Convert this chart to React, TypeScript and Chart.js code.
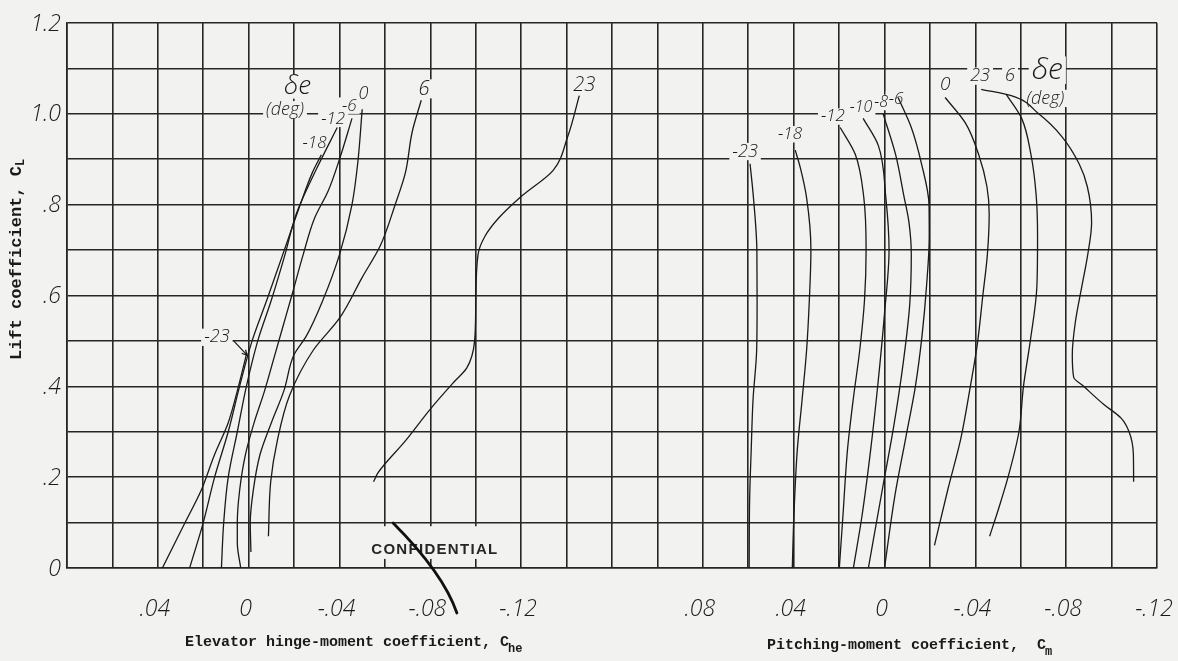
import React, { useEffect, useRef } from 'react';
import { Chart, registerables } from 'chart.js';

Chart.register(...registerables);

type P = [number, number];

// ---- Elevator hinge-moment coefficient C_he (x) vs lift coefficient C_L (y), per δe (deg)
const hingeM23: P[] = [[0.038, 0], [0.028, 0.10], [0.021, 0.17], [0.015, 0.25], [0.009, 0.32], [0.005, 0.39], [0.001, 0.47]];
const hingeM18: P[] = [[0.026, 0], [0.020, 0.10], [0.015, 0.20], [0.009, 0.30], [0.004, 0.40], [-0.0015, 0.50], [-0.008, 0.59], [-0.015, 0.69], [-0.022, 0.79], [-0.028, 0.87], [-0.032, 0.91]];
const hingeM12: P[] = [[0.012, 0], [0.011, 0.10], [0.009, 0.20], [0.005, 0.30], [0.001, 0.40], [-0.004, 0.50], [-0.010, 0.59], [-0.016, 0.69], [-0.021, 0.78], [-0.030, 0.88], [-0.039, 0.97]];
const hingeM6: P[] = [[0.0035, 0], [0.005, 0.055], [0.005, 0.10], [0.004, 0.17], [0.0014, 0.25], [-0.0024, 0.32], [-0.007, 0.39], [-0.011, 0.46], [-0.015, 0.53], [-0.019, 0.60], [-0.024, 0.69], [-0.029, 0.77], [-0.035, 0.83], [-0.040, 0.90], [-0.0455, 0.99]];
const hinge0: P[] = [[-0.001, 0.035], [-0.0007, 0.10], [-0.002, 0.17], [-0.005, 0.25], [-0.010, 0.32], [-0.0155, 0.39], [-0.020, 0.47], [-0.0253, 0.51], [-0.0327, 0.59], [-0.040, 0.69], [-0.0455, 0.80], [-0.048, 0.89], [-0.050, 1.01]];
const hinge6: P[] = [[-0.0087, 0.07], [-0.0097, 0.19], [-0.0126, 0.28], [-0.018, 0.38], [-0.0285, 0.48], [-0.040, 0.55], [-0.050, 0.64], [-0.058, 0.71], [-0.0645, 0.80], [-0.069, 0.87], [-0.072, 0.96], [-0.076, 1.03]];
const hinge23: P[] = [[-0.055, 0.19], [-0.057, 0.21], [-0.069, 0.28], [-0.080, 0.35], [-0.0905, 0.41], [-0.096, 0.44], [-0.0995, 0.50], [-0.100, 0.58], [-0.101, 0.69], [-0.104, 0.73], [-0.110, 0.77], [-0.1205, 0.82], [-0.134, 0.875], [-0.1405, 0.95], [-0.1456, 1.04]];

// ---- Pitching-moment coefficient C_m (x) vs lift coefficient C_L (y), per δe (deg)
const pitchM23: P[] = [[0.0596, 0], [0.0594, 0.15], [0.0587, 0.26], [0.0579, 0.37], [0.0563, 0.48], [0.0561, 0.59], [0.0562, 0.70], [0.0577, 0.815], [0.0592, 0.89]];
const pitchM18: P[] = [[0.0406, 0], [0.0399, 0.115], [0.0384, 0.26], [0.0363, 0.37], [0.0343, 0.48], [0.0331, 0.59], [0.0324, 0.70], [0.0343, 0.815], [0.0370, 0.88], [0.0393, 0.92]];
const pitchM12: P[] = [[0.0199, 0], [0.0183, 0.115], [0.0163, 0.26], [0.0138, 0.37], [0.0109, 0.48], [0.0088, 0.59], [0.0081, 0.70], [0.0091, 0.815], [0.0128, 0.91], [0.0195, 0.97]];
const pitchM10: P[] = [[0.0137, 0], [0.0099, 0.115], [0.0061, 0.26], [0.0028, 0.41], [0.0, 0.56], [-0.0020, 0.70], [-0.0006, 0.815], [0.0027, 0.93], [0.0094, 0.99]];
const pitchM8: P[] = [[0.0071, 0], [0.0007, 0.18], [-0.0040, 0.31], [-0.0082, 0.45], [-0.0111, 0.58], [-0.0118, 0.69], [-0.0108, 0.76], [-0.0085, 0.82], [-0.0049, 0.91], [0.0006, 1.0]];
const pitchM6: P[] = [[0.0, 0], [-0.0046, 0.16], [-0.0093, 0.285], [-0.0136, 0.40], [-0.0165, 0.51], [-0.0185, 0.62], [-0.0197, 0.73], [-0.0196, 0.80], [-0.0163, 0.89], [-0.0118, 0.97], [-0.0060, 1.036]];
const pitch0: P[] = [[-0.022, 0.05], [-0.028, 0.175], [-0.0336, 0.285], [-0.0378, 0.40], [-0.0408, 0.49], [-0.0433, 0.60], [-0.0453, 0.69], [-0.0461, 0.78], [-0.0451, 0.84], [-0.0415, 0.91], [-0.0356, 0.98], [-0.0267, 1.036]];
const pitch6: P[] = [[-0.0463, 0.07], [-0.0502, 0.13], [-0.0544, 0.20], [-0.0592, 0.30], [-0.0612, 0.40], [-0.0642, 0.50], [-0.0671, 0.62], [-0.0674, 0.73], [-0.0668, 0.82], [-0.0645, 0.91], [-0.0604, 0.99], [-0.0536, 1.043]];
const pitch23: P[] = [[-0.1097, 0.19], [-0.1096, 0.25], [-0.1077, 0.30], [-0.1042, 0.33], [-0.0966, 0.36], [-0.0877, 0.40], [-0.0833, 0.42], [-0.0827, 0.47], [-0.0840, 0.54], [-0.0869, 0.62], [-0.0895, 0.69], [-0.0912, 0.76], [-0.0893, 0.84], [-0.0857, 0.89], [-0.0781, 0.95], [-0.0679, 1.0], [-0.0558, 1.04], [-0.0426, 1.054]];

// ---- Axis ranges and ticks
const hingeMin = -0.40;
const hingeMax = 0.08;
const pitchMin = -0.12;
const pitchMax = 0.36;
const liftMin = 0;
const liftMax = 1.2;
const hingeGridValues = Array.from({ length: 25 }, (_, i) => Math.round((0.08 - 0.02 * i) * 100) / 100);
const liftGridValues = Array.from({ length: 13 }, (_, i) => Math.round(i * 10) / 100);

const liftTicks = [0, 0.2, 0.4, 0.6, 0.8, 1.0, 1.2];
const liftTickText = ['0', '.2', '.4', '.6', '.8', '1.0', '1.2'];
const hingeTicks = [0.04, 0, -0.04, -0.08, -0.12];
const hingeTickText = ['.04', '0', '-.04', '-.08', '-.12'];
const pitchTicks = [0.08, 0.04, 0, -0.04, -0.08, -0.12];
const pitchTickText = ['.08', '.04', '0', '-.04', '-.08', '-.12'];

// ---- Curve labels (value coordinates)
type L = { text: string; x: number; y: number; size: number };
const hingeCurveLabels: L[] = [
  { text: 'δe', x: -0.0215, y: 1.06, size: 26 },
  { text: '(deg)', x: -0.0160, y: 1.009, size: 18 },
  { text: '-18', x: -0.0290, y: 0.936, size: 17 },
  { text: '-12', x: -0.0372, y: 0.989, size: 17 },
  { text: '-6', x: -0.0443, y: 1.018, size: 17 },
  { text: '0', x: -0.0505, y: 1.043, size: 18 },
  { text: '6', x: -0.0772, y: 1.055, size: 20 },
  { text: '23', x: -0.1478, y: 1.062, size: 20 },
  { text: '-23', x: 0.0140, y: 0.508, size: 18 },
];
const pitchCurveLabels: L[] = [
  { text: '-23', x: 0.0614, y: 0.917, size: 18 },
  { text: '-18', x: 0.0416, y: 0.955, size: 17 },
  { text: '-12', x: 0.0227, y: 0.994, size: 17 },
  { text: '-10', x: 0.0103, y: 1.014, size: 16 },
  { text: '-8', x: 0.0015, y: 1.025, size: 16 },
  { text: '-6', x: -0.0051, y: 1.032, size: 17 },
  { text: '0', x: -0.0267, y: 1.065, size: 19 },
  { text: '23', x: -0.0421, y: 1.083, size: 18 },
  { text: '6', x: -0.0553, y: 1.083, size: 18 },
  { text: 'δe', x: -0.0717, y: 1.096, size: 30 },
  { text: '(deg)', x: -0.0708, y: 1.034, size: 18 },
];
const arrowM23 = { x1: 0.0068, y1: 0.501, x2: 0.0006, y2: 0.468 };
const confidential = { text: 'CONFIDENTIAL', x: -0.082, y: 0.041, boxX1: -0.045, boxX2: -0.117, boxY1: 0.092, boxY2: 0.02 };
const penMark = { x1: -0.0636, y1: 0.099, cx: -0.0856, cy: -0.011, x2: -0.0917, y2: -0.099 };

const BG = '#f2f2f0';
const INK = '#1a1a1a';
const GRID = '#262626';
const numFont = (s: number) => `italic 300 ${s}px "Open Sans", "DejaVu Sans", sans-serif`;
const typeFont = (s: number) => `bold ${s}px "Liberation Mono", "DejaVu Sans Mono", monospace`;

const mk = (label: string, pts: P[], axis: string) => ({
  label,
  data: pts.map(([x, y]) => ({ x, y })),
  xAxisID: axis,
  yAxisID: 'y',
  indexAxis: 'y',
  borderColor: INK,
  borderWidth: 1.3,
  pointRadius: 0,
  cubicInterpolationMode: 'monotone',
  fill: false,
});

const maskLabel = (ctx: CanvasRenderingContext2D, l: L, sx: any, sy: any) => {
  ctx.font = numFont(l.size);
  const w = ctx.measureText(l.text).width;
  const px = sx.getPixelForValue(l.x);
  const py = sy.getPixelForValue(l.y);
  const h = l.size * 0.85;
  ctx.fillRect(px - w / 2 - 3, py - h / 2 - 1, w + 6, h + 2);
};

const drawLabel = (ctx: CanvasRenderingContext2D, l: L, sx: any, sy: any) => {
  ctx.font = numFont(l.size);
  ctx.textAlign = 'center';
  ctx.textBaseline = 'middle';
  ctx.fillText(l.text, sx.getPixelForValue(l.x), sy.getPixelForValue(l.y));
};

const decor = {
  id: 'decor',
  beforeDatasetsDraw(chart: any) {
    const { ctx, scales } = chart;
    const { x, xm, y } = scales;
    ctx.save();
    ctx.fillStyle = BG;
    const bx1 = x.getPixelForValue(confidential.boxX1);
    const bx2 = x.getPixelForValue(confidential.boxX2);
    const by1 = y.getPixelForValue(confidential.boxY1);
    const by2 = y.getPixelForValue(confidential.boxY2);
    ctx.fillRect(bx1, by1, bx2 - bx1, by2 - by1);
    hingeCurveLabels.forEach((l) => maskLabel(ctx, l, x, y));
    pitchCurveLabels.forEach((l) => maskLabel(ctx, l, xm, y));
    ctx.restore();
  },
  afterDatasetsDraw(chart: any) {
    const { ctx, scales } = chart;
    const { x, xm, y } = scales;
    ctx.save();
    ctx.fillStyle = INK;
    hingeCurveLabels.forEach((l) => drawLabel(ctx, l, x, y));
    pitchCurveLabels.forEach((l) => drawLabel(ctx, l, xm, y));
    // arrow for -23
    const ax1 = x.getPixelForValue(arrowM23.x1), ay1 = y.getPixelForValue(arrowM23.y1);
    const ax2 = x.getPixelForValue(arrowM23.x2), ay2 = y.getPixelForValue(arrowM23.y2);
    ctx.strokeStyle = INK;
    ctx.lineWidth = 1.2;
    ctx.beginPath();
    ctx.moveTo(ax1, ay1);
    ctx.lineTo(ax2, ay2);
    const ang = Math.atan2(ay2 - ay1, ax2 - ax1);
    ctx.moveTo(ax2, ay2);
    ctx.lineTo(ax2 - 6 * Math.cos(ang - 0.45), ay2 - 6 * Math.sin(ang - 0.45));
    ctx.moveTo(ax2, ay2);
    ctx.lineTo(ax2 - 6 * Math.cos(ang + 0.45), ay2 - 6 * Math.sin(ang + 0.45));
    ctx.stroke();
    // CONFIDENTIAL
    ctx.font = 'bold 15px "Liberation Sans", "DejaVu Sans", sans-serif';
    (ctx as any).letterSpacing = '1.3px';
    ctx.textAlign = 'center';
    ctx.textBaseline = 'middle';
    ctx.fillStyle = '#262626';
    ctx.fillText(confidential.text, x.getPixelForValue(confidential.x), y.getPixelForValue(confidential.y));
    ctx.restore();
  },
  afterDraw(chart: any) {
    const { ctx, scales, chartArea } = chart;
    const { x, xm, y } = scales;
    ctx.save();
    ctx.fillStyle = INK;
    // y tick labels
    ctx.font = numFont(23);
    ctx.textAlign = 'right';
    ctx.textBaseline = 'middle';
    liftTicks.forEach((v, i) => ctx.fillText(liftTickText[i], chartArea.left - 6, y.getPixelForValue(v) + 1));
    // x tick labels
    ctx.textAlign = 'center';
    const ty = chartArea.bottom + 41;
    hingeTicks.forEach((v, i) => ctx.fillText(hingeTickText[i], x.getPixelForValue(v) - 3, ty));
    pitchTicks.forEach((v, i) => ctx.fillText(pitchTickText[i], xm.getPixelForValue(v) - 3, ty));
    // titles
    ctx.textAlign = 'left';
    ctx.textBaseline = 'alphabetic';
    ctx.font = typeFont(15);
    const t1 = 'Elevator hinge-moment coefficient, C';
    ctx.fillText(t1, 185, chartArea.bottom + 78);
    const w1 = ctx.measureText(t1).width;
    ctx.font = typeFont(12);
    ctx.fillText('he', 185 + w1 - 1, chartArea.bottom + 84);
    ctx.font = typeFont(15);
    const t2 = 'Pitching-moment coefficient,  C';
    ctx.fillText(t2, 767, chartArea.bottom + 81);
    const w2 = ctx.measureText(t2).width;
    ctx.font = typeFont(12);
    ctx.fillText('m', 767 + w2 - 1, chartArea.bottom + 87);
    // vertical title
    ctx.save();
    ctx.translate(21, 258);
    ctx.rotate(-Math.PI / 2);
    ctx.font = typeFont(17);
    const t3 = 'Lift coefficient, C';
    const w3 = ctx.measureText(t3).width;
    ctx.fillText(t3, -w3 / 2 - 5, 0);
    ctx.font = typeFont(12);
    ctx.fillText('L', w3 / 2 - 5, 3);
    ctx.restore();
    // pen mark over the CONFIDENTIAL stamp
    ctx.strokeStyle = '#111';
    ctx.lineCap = 'round';
    ctx.lineWidth = 2.8;
    ctx.beginPath();
    ctx.moveTo(x.getPixelForValue(penMark.x1), y.getPixelForValue(penMark.y1));
    ctx.quadraticCurveTo(
      x.getPixelForValue(penMark.cx), y.getPixelForValue(penMark.cy),
      x.getPixelForValue(penMark.x2), y.getPixelForValue(penMark.y2)
    );
    ctx.stroke();
    ctx.restore();
  },
};

export default function App() {
  const ref = useRef<HTMLCanvasElement>(null);
  useEffect(() => {
    document.body.style.margin = '0';
    const chart = new Chart(ref.current as HTMLCanvasElement, {
      type: 'line',
      data: {
        datasets: [
          mk('-23', hingeM23, 'x'),
          mk('-18', hingeM18, 'x'),
          mk('-12', hingeM12, 'x'),
          mk('-6', hingeM6, 'x'),
          mk('0', hinge0, 'x'),
          mk('6', hinge6, 'x'),
          mk('23', hinge23, 'x'),
          mk('-23', pitchM23, 'xm'),
          mk('-18', pitchM18, 'xm'),
          mk('-12', pitchM12, 'xm'),
          mk('-10', pitchM10, 'xm'),
          mk('-8', pitchM8, 'xm'),
          mk('-6', pitchM6, 'xm'),
          mk('0', pitch0, 'xm'),
          mk('6', pitch6, 'xm'),
          mk('23', pitch23, 'xm'),
        ] as any,
      },
      options: {
        animation: false,
        responsive: false,
        devicePixelRatio: 1,
        layout: { padding: { left: 67, right: 21, top: 23, bottom: 93 } },
        plugins: { legend: { display: false }, tooltip: { enabled: false } },
        scales: {
          x: {
            type: 'linear', min: hingeMin, max: hingeMax, reverse: true,
            afterBuildTicks: (s: any) => { s.ticks = hingeGridValues.map((v) => ({ value: v })); },
            afterFit: (s: any) => { s.height = 0; },
            ticks: { display: false },
            grid: { color: GRID, lineWidth: 1.6, drawTicks: false },
            border: { color: GRID, width: 1.6 },
          },
          xm: {
            type: 'linear', min: pitchMin, max: pitchMax, reverse: true, display: false,
          },
          y: {
            type: 'linear', min: liftMin, max: liftMax,
            afterBuildTicks: (s: any) => { s.ticks = liftGridValues.map((v) => ({ value: v })); },
            afterFit: (s: any) => { s.width = 0; },
            ticks: { display: false },
            grid: { color: GRID, lineWidth: 1.6, drawTicks: false },
            border: { color: GRID, width: 1.6 },
          },
        },
      } as any,
      plugins: [decor],
    });
    return () => chart.destroy();
  }, []);
  return (
    <div style={{ position: 'fixed', left: 0, top: 0, width: 1178, height: 661, background: BG }}>
      <canvas ref={ref} width={1178} height={661} style={{ display: 'block' }} />
    </div>
  );
}
